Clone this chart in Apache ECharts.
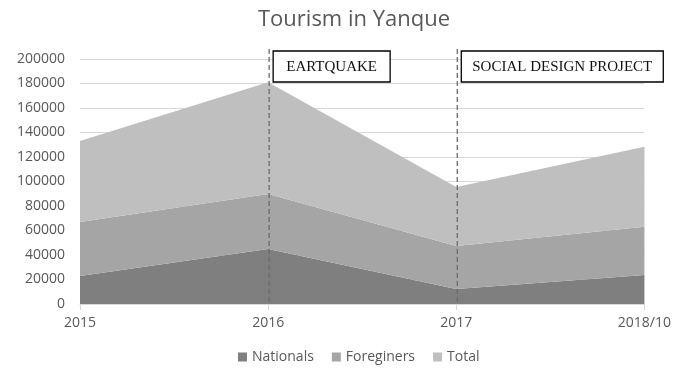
<!DOCTYPE html>
<html>
<head>
<meta charset="utf-8">
<script src="https://cdn.jsdelivr.net/npm/echarts@6/dist/echarts.min.js"></script>
<style>
  html, body { margin: 0; padding: 0; background: #fff; }
  #chart { width: 674px; height: 370px; }
</style>
</head>
<body>
<div id="chart"></div>
<script>
// Visitor counts per period
const categories = ['2015', '2016', '2017', '2018/10'];
const nationals = [22900, 44900, 12200, 23700];
const foreigners = [44000, 44900, 35100, 39400];
const total = [66100, 91200, 48200, 65300];
const yTicks = { min: 0, max: 200000, interval: 20000 };

// Event markers on the time axis
const events = [
  { at: '2016', text: 'EARTQUAKE', width: 117 },
  { at: '2017', text: 'SOCIAL DESIGN PROJECT', width: 202 }
];

const textColor = '#595959';
const font = '"Open Sans", "Liberation Sans", sans-serif';

const chart = echarts.init(document.getElementById('chart'));

function areaSeries(name, data, color) {
  return {
    name: name,
    type: 'line',
    stack: 'all',
    data: data,
    symbol: 'none',
    lineStyle: { width: 0 },
    areaStyle: { color: color, opacity: 1 },
    itemStyle: { color: color }
  };
}

chart.setOption({
  animation: false,
  title: {
    text: 'Tourism in Yanque',
    left: 253,
    top: 4,
    textStyle: { fontFamily: font, fontSize: 22, fontWeight: 'normal', color: textColor }
  },
  legend: {
    bottom: 1,
    left: 233,
    itemWidth: 9,
    itemHeight: 9,
    itemGap: 18,
    icon: 'rect',
    textStyle: { fontFamily: font, fontSize: 14, color: textColor },
    data: ['Nationals', 'Foreginers', 'Total']
  },
  grid: { left: 80, right: 28, top: 59, bottom: 66 },
  xAxis: {
    type: 'category',
    data: categories,
    boundaryGap: false,
    axisLine: { lineStyle: { color: '#d9d9d9' } },
    axisTick: { show: true, length: 6, lineStyle: { color: '#d9d9d9' } },
    axisLabel: { fontFamily: font, fontSize: 14, color: textColor, margin: 12 }
  },
  yAxis: {
    type: 'value',
    min: yTicks.min,
    max: yTicks.max,
    interval: yTicks.interval,
    axisLine: { show: false },
    axisTick: { show: false },
    axisLabel: {
      fontFamily: font, fontSize: 14, color: textColor, margin: 15,
      formatter: function (v) { return String(v); }
    },
    splitLine: { lineStyle: { color: '#d9d9d9', width: 1 } }
  },
  series: [
    areaSeries('Nationals', nationals, '#7f7f7f'),
    areaSeries('Foreginers', foreigners, '#a5a5a5'),
    areaSeries('Total', total, '#bfbfbf')
  ]
});

// Dashed event lines with boxed captions, anchored to the category positions
function drawEvents() {
  const bottomY = chart.convertToPixel({ yAxisIndex: 0 }, 0);
  const topY = chart.convertToPixel({ yAxisIndex: 0 }, yTicks.max);
  const elements = [];
  events.forEach(function (ev) {
    const x = chart.convertToPixel({ xAxisIndex: 0 }, ev.at) + 1;
    elements.push({
      type: 'line',
      shape: { x1: x, y1: topY - 10, x2: x, y2: bottomY },
      style: { stroke: '#6b6b6b', lineWidth: 1.3, lineDash: [5, 3] },
      z: 10
    });
    elements.push({
      type: 'rect',
      shape: { x: x + 4, y: topY - 8, width: ev.width, height: 31 },
      style: { fill: '#fff', stroke: '#000', lineWidth: 1.3 },
      z: 10
    });
    elements.push({
      type: 'text',
      x: x + 4 + ev.width / 2,
      y: topY - 8 + 16,
      style: {
        text: ev.text,
        fill: '#111',
        font: '15px "Liberation Serif", serif',
        align: 'center',
        verticalAlign: 'middle'
      },
      z: 11
    });
  });
  chart.setOption({ graphic: elements });
}
drawEvents();
</script>
</body>
</html>
